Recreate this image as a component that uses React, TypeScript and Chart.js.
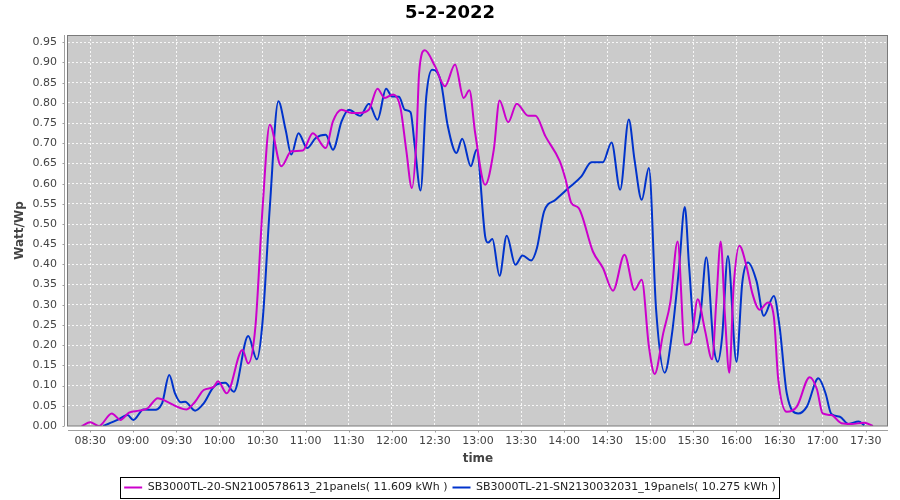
import React, { useEffect, useRef } from "react";
import { Chart, registerables } from "chart.js";

Chart.register(...registerables);

const TITLE = "5-2-2022";
const Y_TITLE = "Watt/Wp";
const X_TITLE = "time";
const SERIES_A_LABEL = "SB3000TL-20-SN2100578613_21panels( 11.609 kWh )";
const SERIES_B_LABEL = "SB3000TL-21-SN2130032031_19panels( 10.275 kWh )";

const xTickLabels = ["08:30", "09:00", "09:30", "10:00", "10:30", "11:00", "11:30", "12:00", "12:30", "13:00", "13:30", "14:00", "14:30", "15:00", "15:30", "16:00", "16:30", "17:00", "17:30"];
const yTickLabels = ["0.00", "0.05", "0.10", "0.15", "0.20", "0.25", "0.30", "0.35", "0.40", "0.45", "0.50", "0.55", "0.60", "0.65", "0.70", "0.75", "0.80", "0.85", "0.90", "0.95"];

const X_MIN = "08:14:30";
const X_MAX = "17:45:30";
const Y_MIN = 0;
const Y_MAX = 0.968;

const seriesATimes = ["08:24", "08:30", "08:36", "08:45", "08:51", "08:57", "09:04", "09:10", "09:17", "09:20", "09:37", "09:43", "09:49", "09:56", "09:59", "10:05", "10:16", "10:20", "10:25", "10:30", "10:35", "10:43", "10:50", "10:58", "11:05", "11:14", "11:19", "11:25", "11:32", "11:37", "11:44", "11:50", "11:55", "12:01", "12:06", "12:10", "12:14", "12:17", "12:19", "12:23", "12:30", "12:37", "12:44", "12:50", "12:54", "12:58", "13:05", "13:11", "13:15", "13:21", "13:27", "13:35", "13:40", "13:47", "13:57", "14:01", "14:05", "14:10", "14:20", "14:27", "14:34", "14:42", "14:49", "14:54", "14:59", "15:03", "15:09", "15:14", "15:19", "15:24", "15:28", "15:33", "15:38", "15:43", "15:46", "15:49", "15:52", "15:55", "15:58", "16:02", "16:07", "16:11", "16:16", "16:22", "16:26", "16:29", "16:35", "16:42", "16:51", "16:56", "17:00", "17:06", "17:13", "17:20", "17:29", "17:35"];
const seriesAValues = [0.000, 0.009, 0.000, 0.031, 0.015, 0.033, 0.038, 0.044, 0.069, 0.066, 0.041, 0.060, 0.089, 0.097, 0.111, 0.081, 0.188, 0.155, 0.246, 0.540, 0.746, 0.643, 0.680, 0.682, 0.725, 0.688, 0.754, 0.783, 0.775, 0.775, 0.783, 0.835, 0.812, 0.821, 0.788, 0.684, 0.589, 0.700, 0.874, 0.930, 0.891, 0.841, 0.895, 0.812, 0.831, 0.726, 0.597, 0.684, 0.806, 0.752, 0.798, 0.768, 0.768, 0.717, 0.655, 0.610, 0.552, 0.540, 0.432, 0.391, 0.335, 0.424, 0.337, 0.362, 0.197, 0.129, 0.230, 0.308, 0.457, 0.201, 0.205, 0.314, 0.238, 0.165, 0.312, 0.457, 0.271, 0.132, 0.345, 0.446, 0.395, 0.329, 0.288, 0.306, 0.271, 0.118, 0.035, 0.048, 0.121, 0.091, 0.031, 0.027, 0.007, 0.005, 0.008, 0.000];

const seriesBTimes = ["08:39", "08:49", "08:56", "09:00", "09:07", "09:14", "09:20", "09:25", "09:29", "09:33", "09:36", "09:43", "09:49", "09:56", "10:04", "10:10", "10:20", "10:26", "10:30", "10:35", "10:41", "10:46", "10:50", "10:55", "11:01", "11:07", "11:14", "11:19", "11:25", "11:30", "11:38", "11:44", "11:50", "11:56", "12:00", "12:05", "12:09", "12:13", "12:16", "12:20", "12:24", "12:28", "12:34", "12:39", "12:45", "12:49", "12:55", "12:59", "13:05", "13:07", "13:10", "13:15", "13:20", "13:26", "13:31", "13:37", "13:41", "13:46", "13:54", "14:03", "14:12", "14:19", "14:27", "14:33", "14:39", "14:45", "14:49", "14:54", "14:59", "15:04", "15:10", "15:15", "15:20", "15:24", "15:27", "15:31", "15:35", "15:39", "15:44", "15:47", "15:50", "15:54", "16:00", "16:04", "16:08", "16:14", "16:19", "16:26", "16:30", "16:35", "16:43", "16:49", "16:57", "17:02", "17:06", "17:12", "17:18", "17:25", "17:29"];
const seriesBValues = [0.000, 0.015, 0.027, 0.015, 0.041, 0.040, 0.056, 0.126, 0.081, 0.059, 0.060, 0.038, 0.056, 0.097, 0.107, 0.085, 0.223, 0.165, 0.259, 0.540, 0.804, 0.734, 0.672, 0.725, 0.688, 0.713, 0.721, 0.684, 0.754, 0.783, 0.768, 0.798, 0.758, 0.835, 0.816, 0.815, 0.783, 0.777, 0.692, 0.583, 0.816, 0.882, 0.854, 0.742, 0.676, 0.711, 0.643, 0.684, 0.469, 0.454, 0.463, 0.372, 0.471, 0.399, 0.422, 0.410, 0.440, 0.531, 0.560, 0.589, 0.618, 0.653, 0.653, 0.702, 0.585, 0.759, 0.659, 0.560, 0.639, 0.289, 0.132, 0.226, 0.391, 0.542, 0.395, 0.231, 0.279, 0.418, 0.201, 0.159, 0.221, 0.421, 0.159, 0.354, 0.405, 0.358, 0.273, 0.322, 0.246, 0.081, 0.031, 0.048, 0.118, 0.081, 0.030, 0.023, 0.005, 0.011, 0.002];

const COLOR_A = "#cc00cc";
const COLOR_B = "#0033cc";
const FONT = "'DejaVu Sans', sans-serif";

function toMin(s: string): number {
  const p = s.split(":").map(Number);
  return p[0] * 60 + p[1] + (p[2] || 0) / 60;
}

function pad2(n: number) {
  return (n < 10 ? "0" : "") + n;
}

const framePlugin = {
  id: "jframe",
  beforeDraw(chart: any) {
    const { ctx, chartArea: a } = chart;
    ctx.save();
    ctx.fillStyle = "#cbcbcb";
    ctx.fillRect(a.left, a.top, a.right - a.left, a.bottom - a.top);
    ctx.restore();
  },
  afterDraw(chart: any) {
    const { ctx, chartArea: a } = chart;
    ctx.save();
    ctx.lineWidth = 1;
    // plot outline
    ctx.strokeStyle = "#7a7a7a";
    ctx.strokeRect(Math.round(a.left) - 0.5, Math.round(a.top) + 0.5, Math.round(a.right - a.left), Math.round(a.bottom - a.top) - 0.5);
    // axis lines (offset like the reference)
    ctx.strokeStyle = "#a0a0a0";
    const ax = Math.round(a.left) - 3.5;
    const ay = Math.round(a.bottom) + 4.5;
    ctx.beginPath();
    ctx.moveTo(ax, a.top);
    ctx.lineTo(ax, a.bottom);
    ctx.moveTo(a.left, ay);
    ctx.lineTo(a.right, ay);
    const ys = chart.scales.y;
    for (const t of ys.ticks) {
      const py = Math.round(ys.getPixelForValue(t.value)) + 0.5;
      ctx.moveTo(ax - 2, py);
      ctx.lineTo(ax, py);
    }
    const xs = chart.scales.x;
    for (const t of xs.ticks) {
      const px = Math.round(xs.getPixelForValue(t.value)) + 0.5;
      ctx.moveTo(px, ay);
      ctx.lineTo(px, ay + 2);
    }
    ctx.stroke();
    // legend border
    const lg = chart.legend;
    if (lg && lg.legendHitBoxes && lg.legendHitBoxes.length) {
      const hb = lg.legendHitBoxes;
      const left = Math.round(hb[0].left) - 3.5;
      const last = hb[hb.length - 1];
      const right = Math.round(last.left + last.width) + 3.5;
      const cy = lg.top + 5 + 5.5;
      ctx.strokeStyle = "#000";
      ctx.strokeRect(left, Math.round(cy - 10.5) + 0.5, right - left, 21);
    }
    ctx.restore();
  },
};

export default function App() {
  const ref = useRef<HTMLCanvasElement | null>(null);

  useEffect(() => {
    document.body.style.margin = "0";
    const canvas = ref.current;
    if (!canvas) return;
    const dataA = seriesATimes.map((t, i) => ({ x: toMin(t), y: seriesAValues[i] }));
    const dataB = seriesBTimes.map((t, i) => ({ x: toMin(t), y: seriesBValues[i] }));
    const xTicks = xTickLabels.map(toMin);
    const yTicks = yTickLabels.map(Number);

    const chart = new Chart(canvas, {
      type: "line",
      data: {
        datasets: [
          {
            label: SERIES_A_LABEL,
            data: dataA,
            borderColor: COLOR_A,
            backgroundColor: COLOR_A,
            borderWidth: 2,
            pointRadius: 0,
            pointStyle: "line",
            cubicInterpolationMode: "monotone",
            fill: false,
          },
          {
            label: SERIES_B_LABEL,
            data: dataB,
            borderColor: COLOR_B,
            backgroundColor: COLOR_B,
            borderWidth: 2,
            pointRadius: 0,
            pointStyle: "line",
            cubicInterpolationMode: "monotone",
            fill: false,
          },
        ],
      },
      options: {
        responsive: false,
        animation: false,
        layout: { padding: { left: 12, right: 12, top: 0, bottom: -3 } },
        plugins: {
          title: {
            display: true,
            text: TITLE,
            color: "#000",
            font: { family: FONT, size: 18, weight: "bold", lineHeight: 1.2 },
            padding: { top: 3, bottom: 10.4 },
          },
          legend: {
            display: true,
            position: "bottom",
            labels: {
              usePointStyle: true,
              pointStyleWidth: 18,
              padding: 5,
              color: "#222",
              font: { family: FONT, size: 11 },
            },
          },
          tooltip: { enabled: false },
        },
        scales: {
          x: {
            type: "linear",
            min: toMin(X_MIN),
            max: toMin(X_MAX),
            afterBuildTicks: (s: any) => {
              s.ticks = xTicks.map((v) => ({ value: v }));
            },
            afterFit: (s: any) => {
              s.height = 51;
            },
            ticks: {
              color: "#444",
              font: { family: FONT, size: 11 },
              padding: 9,
              maxRotation: 0,
              autoSkip: false,
              callback: (v: any) => {
                const m = Math.round(Number(v));
                return pad2(Math.floor(m / 60)) + ":" + pad2(m % 60);
              },
            },
            grid: {
              color: "rgba(255,255,255,0.85)",
              lineWidth: 1,
              drawTicks: false,
            },
            border: { display: false, dash: [2, 2] },
            title: {
              display: true,
              text: X_TITLE,
              color: "#444",
              font: { family: FONT, size: 12, weight: "bold", lineHeight: 1.2 },
              padding: { top: 0, bottom: 11 },
            },
          },
          y: {
            type: "linear",
            min: Y_MIN,
            max: Y_MAX,
            afterBuildTicks: (s: any) => {
              s.ticks = yTicks.map((v) => ({ value: v }));
            },
            afterFit: (s: any) => {
              s.width = 56;
            },
            ticks: {
              color: "#444",
              font: { family: FONT, size: 11 },
              padding: 11,
              callback: (v: any) => Number(v).toFixed(2),
            },
            grid: {
              color: "rgba(255,255,255,0.85)",
              lineWidth: 1,
              drawTicks: false,
            },
            border: { display: false, dash: [2, 2] },
            title: {
              display: true,
              text: Y_TITLE,
              color: "#444",
              font: { family: FONT, size: 12, weight: "bold", lineHeight: 1.2 },
              padding: { top: 1, bottom: 0 },
            },
          },
        },
      },
      plugins: [framePlugin],
    } as any);

    return () => chart.destroy();
  }, []);

  return (
    <div style={{ width: 900, height: 500 }}>
      <canvas ref={ref} width={900} height={500} style={{ display: "block" }} />
    </div>
  );
}
